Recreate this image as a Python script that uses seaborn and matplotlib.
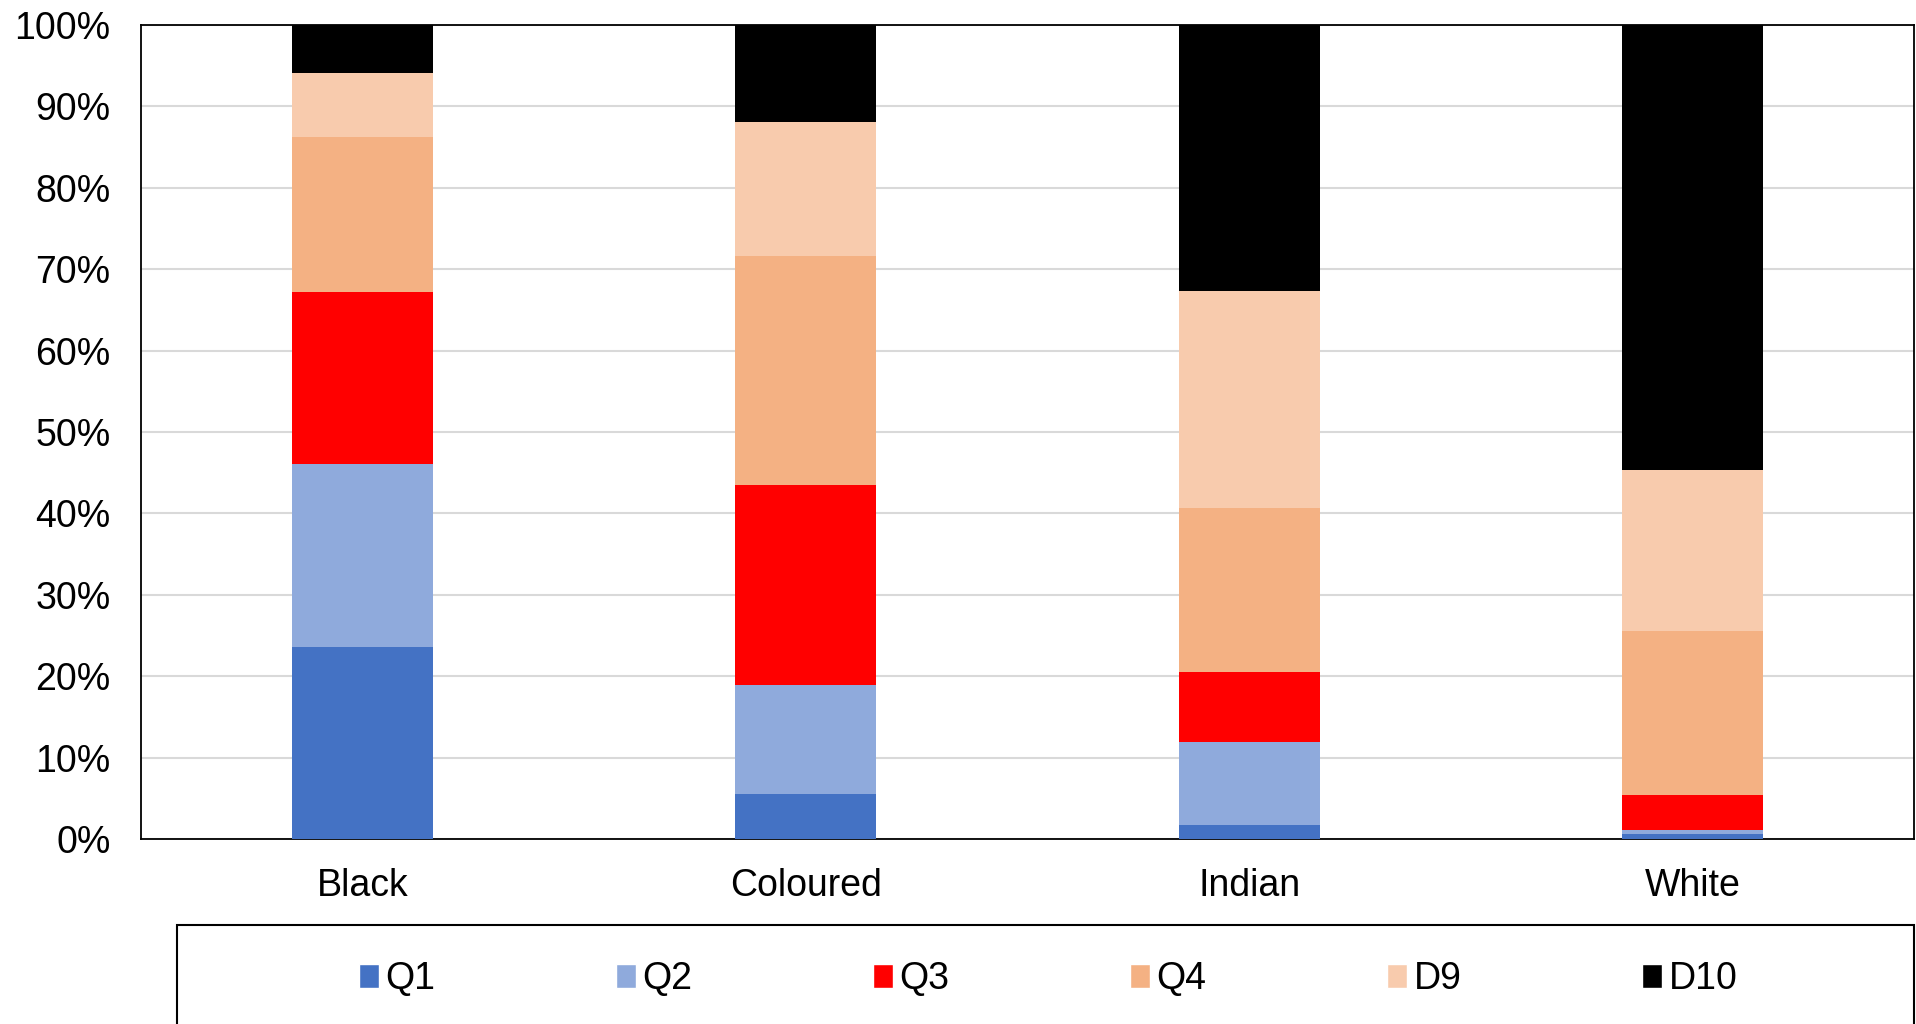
import pandas as pd
import numpy as np
import seaborn as sns
import matplotlib.pyplot as plt
from matplotlib.patches import Rectangle, Patch
from matplotlib.ticker import PercentFormatter

# share of each population group by income bracket (%)
groups = ['Black', 'Coloured', 'Indian', 'White']
brackets = ['Q1', 'Q2', 'Q3', 'Q4', 'D9', 'D10']
q1 = [23.6, 5.5, 1.7, 0.6]
q2 = [22.5, 13.4, 10.2, 0.5]
q3 = [21.1, 24.6, 8.6, 4.3]
q4 = [19.0, 28.1, 20.2, 20.1]
d9 = [7.9, 16.5, 26.6, 19.8]
d10 = [5.9, 11.9, 32.7, 54.7]
colors = ['#4472C4', '#8FAADC', '#FF0000', '#F4B183', '#F8CBAD', '#000000']

df = pd.DataFrame({'Q1': q1, 'Q2': q2, 'Q3': q3, 'Q4': q4, 'D9': d9, 'D10': d10}, index=groups)
# normalise so each bar sums to 100
df = df.div(df.sum(axis=1), axis=0) * 100
cum = df.cumsum(axis=1)

sns.set_style('white')
plt.rcParams['font.family'] = ['Liberation Sans', 'DejaVu Sans']
plt.rcParams['text.color'] = 'black'
plt.rcParams['xtick.color'] = 'black'
plt.rcParams['ytick.color'] = 'black'

fig = plt.figure(figsize=(19.16, 10.24), dpi=100)
ax = fig.add_axes([141 / 1916, 1 - 839 / 1024, (1914 - 141) / 1916, (839 - 25) / 1024])

# stacked bars: draw cumulative totals from the top bracket down
for name, col in reversed(list(zip(brackets, colors))):
    sns.barplot(x=groups, y=cum[name].values, color=col, width=0.318,
                saturation=1, ax=ax, zorder=3, linewidth=0)

ax.set_ylim(0, 100)
ax.set_xlim(-0.5, 3.5)
ax.set_yticks(np.arange(0, 101, 10))
ax.yaxis.set_major_formatter(PercentFormatter(decimals=0))
ax.grid(axis='y', color='#D9D9D9', linewidth=1.5, zorder=0)
ax.set_axisbelow(True)
for s in ax.spines.values():
    s.set_visible(True)
    s.set_color('black')
    s.set_linewidth(1.3)
ax.tick_params(axis='y', length=0, pad=22, labelsize=27, labelcolor='black')
ax.tick_params(axis='x', length=0, pad=21, labelsize=27, labelcolor='black')
ax.set_xlabel('')
ax.set_ylabel('')

# legend box
fig.add_artist(Rectangle((177 / 1916, -0.01), (1914 - 177) / 1916, 1 - 925 / 1024 + 0.01,
                         transform=fig.transFigure, fill=False, edgecolor='black', linewidth=1.5))
handles = [Patch(facecolor=c, label=b) for b, c in zip(brackets, colors)]
fig.legend(handles=handles, ncol=6, loc='center', bbox_to_anchor=(1048 / 1916, 1 - 979 / 1024),
           frameon=False, fontsize=27, handlelength=0.55, handleheight=0.6,
           handletextpad=0.17, columnspacing=4.8, labelcolor='black')

fig.savefig('out.png', dpi=100)
